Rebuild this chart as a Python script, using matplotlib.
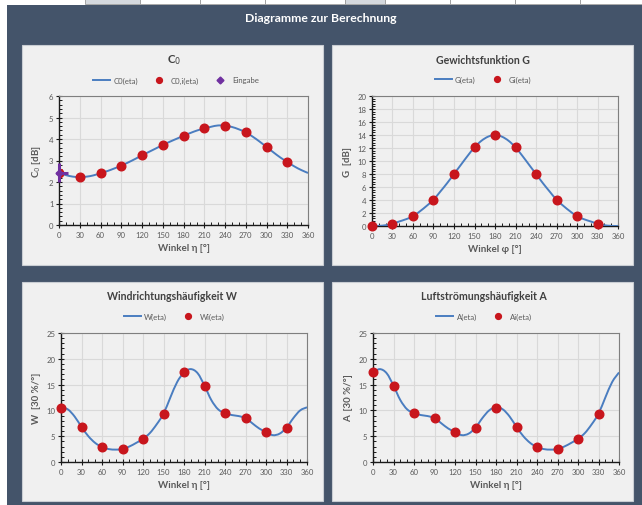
import matplotlib
matplotlib.use("Agg")
import matplotlib.pyplot as plt
from matplotlib.patches import Rectangle, PathPatch
from matplotlib.path import Path
from matplotlib.lines import Line2D
from matplotlib.ticker import MultipleLocator, AutoMinorLocator

plt.rcParams['font.family'] = ['Lato', 'DejaVu Sans']

W_PX, H_PX = 642, 506

# --- data -------------------------------------------------------------
angles_pts = [0, 30, 60, 90, 120, 150, 180, 210, 240, 270, 300, 330]
angles_curve = list(range(0, 361, 10))

c0_pts = [2.42, 2.24, 2.41, 2.76, 3.24, 3.72, 4.15, 4.49, 4.62, 4.31, 3.63, 2.93]
c0_curve = [2.42, 2.32, 2.25, 2.23, 2.25, 2.31, 2.41, 2.51, 2.63, 2.76, 2.91, 3.07,
            3.24, 3.40, 3.56, 3.72, 3.87, 4.01, 4.15, 4.28, 4.40, 4.49, 4.57, 4.63,
            4.62, 4.56, 4.45, 4.31, 4.11, 3.88, 3.63, 3.38, 3.14, 2.93, 2.73, 2.56, 2.42]
eingabe_angle = [0]
eingabe_value = [2.43]

g_pts = [0.0, 0.35, 1.5, 4.05, 8.0, 12.1, 14.0, 12.1, 8.0, 4.05, 1.5, 0.35]
g_curve = [0.0, 0.02, 0.12, 0.35, 0.7, 1.05, 1.5, 2.25, 3.1, 4.05, 5.3, 6.6,
           8.0, 9.4, 10.8, 12.1, 13.1, 13.75, 14.0, 13.75, 13.1, 12.1, 10.8, 9.4,
           8.0, 6.6, 5.3, 4.05, 3.1, 2.25, 1.5, 1.05, 0.7, 0.35, 0.12, 0.02, 0.0]

w_pts = [10.45, 6.7, 2.9, 2.5, 4.5, 9.35, 17.35, 14.8, 9.5, 8.5, 5.85, 6.65]
w_curve = [10.6, 10.2, 8.8, 6.8, 5.0, 3.7, 2.9, 2.5, 2.4, 2.5, 3.0, 3.7,
           4.5, 5.6, 7.3, 9.35, 12.5, 15.5, 17.35, 18.0, 17.2, 14.8, 12.0, 10.2,
           9.5, 9.1, 8.9, 8.5, 7.5, 6.5, 5.8, 5.2, 5.5, 6.65, 8.5, 10.0, 10.6]

a_pts = [17.35, 14.8, 9.5, 8.5, 5.85, 6.65, 10.45, 6.7, 2.9, 2.5, 4.5, 9.35]
a_curve = [17.35, 18.0, 17.2, 14.8, 12.0, 10.2, 9.5, 9.1, 8.9, 8.5, 7.5, 6.5,
           5.8, 5.2, 5.5, 6.65, 8.5, 10.0, 10.6, 10.2, 8.8, 6.8, 5.0, 3.7,
           2.9, 2.5, 2.4, 2.5, 3.0, 3.7, 4.5, 5.6, 7.3, 9.35, 12.5, 15.5, 17.35]

x_ticks = list(range(0, 361, 30))

# --- colours -------------------------------------------------------------
DARK = '#44546a'
PANEL = '#f0f0f0'
LINE = '#4a7dc0'
DOT = '#c8161d'
PURPLE = '#7030a0'
TXT = '#595959'
TITLE = '#404040'
GRID = '#d9d9d9'

fig = plt.figure(figsize=(W_PX / 100, H_PX / 100), dpi=100)
fig.patch.set_facecolor('white')


def frect(x0, y0, x1, y1, **kw):
    fig.patches.append(Rectangle((x0 / W_PX, 1 - y1 / H_PX), (x1 - x0) / W_PX,
                                 (y1 - y0) / H_PX, transform=fig.transFigure, **kw))


# spreadsheet cells peeking in at the top
frect(0, 0, W_PX, 6, facecolor='#ffffff', edgecolor='none', zorder=0)
for x0, x1, fc in [(85, 140, '#d4d8dd'), (140, 200, '#ffffff'), (200, 265, '#ffffff'),
                   (265, 345, '#ffffff'), (345, 385, '#d4d8dd'), (385, 450, '#ffffff'),
                   (450, 515, '#ffffff'), (515, 580, '#ffffff'), (580, 642, '#ffffff')]:
    frect(x0, -2, x1, 5, facecolor=fc, edgecolor='#9a9a9a', lw=0.6, zorder=0.5)

# dark dashboard background
frect(7, 6, W_PX, H_PX, facecolor=DARK, edgecolor='none', zorder=1)
fig.text(321 / W_PX, 1 - 18 / H_PX, 'Diagramme zur Berechnung', color='white',
         fontsize=8.8, fontweight='bold', ha='center', va='center', zorder=5)

# chart panels
panels = [(22, 46, 323, 266), (332, 46, 633, 266),
          (22, 283, 323, 502), (332, 283, 633, 502)]
for (x0, y0, x1, y1) in panels:
    frect(x0, y0, x1, y1, facecolor=PANEL, edgecolor='#c9cdd3', lw=0.8, zorder=2)


def make_axes(x0, y0, x1, y1):
    ax = fig.add_axes([x0 / W_PX, 1 - y1 / H_PX, (x1 - x0) / W_PX, (y1 - y0) / H_PX])
    ax.set_facecolor(PANEL)
    ax.set_zorder(3)
    return ax


def smooth_line(ax, xs, ys, **kw):
    """Draw a smoothed line through the given points (cubic Bezier segments)."""
    n = len(xs)
    pts = list(zip(xs, ys))
    verts = [pts[0]]
    codes = [Path.MOVETO]
    for i in range(n - 1):
        p0 = pts[max(i - 1, 0)]
        p1 = pts[i]
        p2 = pts[i + 1]
        p3 = pts[min(i + 2, n - 1)]
        c1 = (p1[0] + (p2[0] - p0[0]) / 6, p1[1] + (p2[1] - p0[1]) / 6)
        c2 = (p2[0] - (p3[0] - p1[0]) / 6, p2[1] - (p3[1] - p1[1]) / 6)
        verts += [c1, c2, p2]
        codes += [Path.CURVE4, Path.CURVE4, Path.CURVE4]
    ax.add_patch(PathPatch(Path(verts, codes), fill=False, **kw))


def style(ax, ymax, ystep, ylabel, xlabel):
    ax.set_xlim(0, 360)
    ax.set_ylim(0, ymax)
    ax.set_xticks(x_ticks)
    ax.xaxis.set_minor_locator(MultipleLocator(10))
    ax.yaxis.set_major_locator(MultipleLocator(ystep))
    ax.yaxis.set_minor_locator(AutoMinorLocator(5))
    ax.grid(True, which='major', color=GRID, lw=0.8, zorder=0)
    ax.set_axisbelow(True)
    for s in ('left', 'bottom'):
        ax.spines[s].set_color('#1a1a1a')
        ax.spines[s].set_linewidth(1.0)
    for s in ('top', 'right'):
        ax.spines[s].set_color('#7f7f7f')
        ax.spines[s].set_linewidth(0.8)
    ax.tick_params(which='major', direction='inout', length=4, width=0.8,
                   color='#1a1a1a', labelsize=5.6, labelcolor=TXT, pad=2)
    ax.tick_params(which='minor', direction='in', length=2, width=0.7, color='#1a1a1a')
    ax.tick_params(top=False, right=False, which='both')
    ax.set_xlabel(xlabel, fontsize=7, color=TXT, fontweight='bold', labelpad=4)
    ax.set_ylabel(ylabel, fontsize=7, color=TXT, fontweight='bold', labelpad=4)


def legend(ax, handles, labels, cx, cy):
    leg = ax.legend(handles, labels, loc='center', bbox_to_anchor=(cx / W_PX, 1 - cy / H_PX),
                    bbox_transform=fig.transFigure, ncol=len(handles), frameon=False,
                    fontsize=5.6, handlelength=2.2, columnspacing=1.6, handletextpad=0.4,
                    borderpad=0)
    for t in leg.get_texts():
        t.set_color(TXT)


def title(text, cx, cy, size=7.6):
    fig.text(cx / W_PX, 1 - cy / H_PX, text, ha='center', va='center',
             fontsize=size, fontweight='bold', color=TITLE, zorder=5)


h_line = lambda: Line2D([], [], color=LINE, lw=1.4)
h_dot = lambda: Line2D([], [], color=DOT, marker='o', ls='none', markersize=4.2)

# --- C0 -------------------------------------------------------------
ax1 = make_axes(59, 97, 308, 226)
smooth_line(ax1, angles_curve, c0_curve, edgecolor=LINE, lw=1.4, zorder=3)
ax1.plot(angles_pts, c0_pts, 'o', color=DOT, markersize=6.2, zorder=4)
ax1.errorbar(eingabe_angle, eingabe_value, xerr=[[5], [13]], yerr=[[0.45], [0.45]],
             fmt='D', color=PURPLE, markersize=3.5, elinewidth=2.2, capsize=0,
             zorder=5, clip_on=False)
style(ax1, 6, 1, r'C$_0$ [dB]', 'Winkel η [°]')
title(r'C$_0$', 174, 60, size=8.2)
legend(ax1, [h_line(), h_dot(),
             Line2D([], [], color=PURPLE, marker='D', ls='none', markersize=3.5)],
       ['C0(eta)', 'C0,i(eta)', 'Eingabe'], 176, 81)

# --- G -------------------------------------------------------------
ax2 = make_axes(372, 97, 618, 227)
smooth_line(ax2, angles_curve, g_curve, edgecolor=LINE, lw=1.4, zorder=3)
ax2.plot(angles_pts, g_pts, 'o', color=DOT, markersize=6.2, zorder=4, clip_on=False)
style(ax2, 20, 2, 'G  [dB]', 'Winkel φ [°]')
title('Gewichtsfunktion G', 483, 60)
legend(ax2, [h_line(), h_dot()], ['G(eta)', 'Gi(eta)'], 483, 80)

# --- W -------------------------------------------------------------
ax3 = make_axes(61, 334, 307, 463)
smooth_line(ax3, angles_curve, w_curve, edgecolor=LINE, lw=1.4, zorder=3)
ax3.plot(angles_pts, w_pts, 'o', color=DOT, markersize=6.2, zorder=4, clip_on=False)
style(ax3, 25, 5, 'W  [30 %/°]', 'Winkel η [°]')
title('Windrichtungshäufigkeit W', 172, 297)
legend(ax3, [h_line(), h_dot()], ['W(eta)', 'Wi(eta)'], 174, 317)

# --- A -------------------------------------------------------------
ax4 = make_axes(373, 334, 619, 463)
smooth_line(ax4, angles_curve, a_curve, edgecolor=LINE, lw=1.4, zorder=3)
ax4.plot(angles_pts, a_pts, 'o', color=DOT, markersize=6.2, zorder=4, clip_on=False)
style(ax4, 25, 5, 'A  [30 %/°]', 'Winkel η [°]')
title('Luftströmungshäufigkeit A', 484, 297)
legend(ax4, [h_line(), h_dot()], ['A(eta)', 'Ai(eta)'], 484, 317)

fig.savefig('out.png', dpi=100)
